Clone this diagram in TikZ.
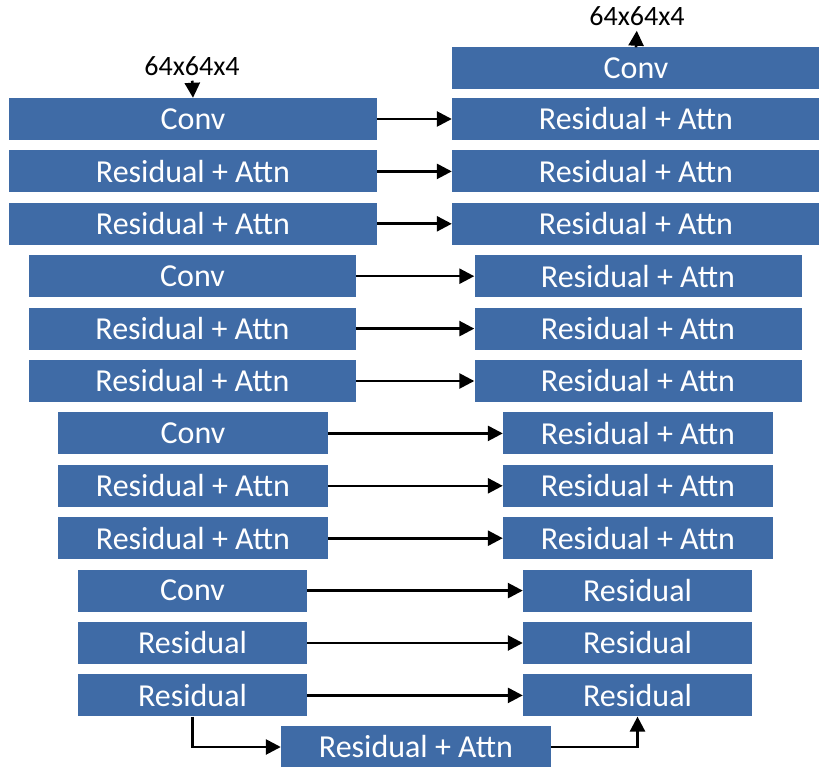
\documentclass[tikz,border=0pt]{standalone}
\usepackage{fontspec}
\setmainfont{Carlito}
\usetikzlibrary{arrows.meta,positioning}
\definecolor{boxblue}{RGB}{63,107,166}

\begin{document}
\begin{tikzpicture}[x=1pt,y=-1pt,>={Triangle[length=15pt,width=15pt]},
  blk/.style={fill=boxblue,text=white,inner sep=0pt,minimum height=42pt,font=\fontsize{32}{38}\selectfont},
  lvla/.style={blk,minimum width=368pt},
  lvlb/.style={blk,minimum width=327pt},
  lvlc/.style={blk,minimum width=270pt},
  lvld/.style={blk,minimum width=229pt},
  dimlbl/.style={inner sep=0pt,font=\fontsize{28}{33}\selectfont}]
  \useasboundingbox (0,0) rectangle (819,767);
  % encoder side
  \node[lvla] (l1)  at (193,119)   {Conv};
  \node[lvla] (l2)  at (193,171.4) {Residual + Attn};
  \node[lvla] (l3)  at (193,223.8) {Residual + Attn};
  \node[lvlb] (l4)  at (192.5,276.2) {Conv};
  \node[lvlb] (l5)  at (192.5,328.6) {Residual + Attn};
  \node[lvlb] (l6)  at (192.5,381)   {Residual + Attn};
  \node[lvlc] (l7)  at (193,433.4) {Conv};
  \node[lvlc] (l8)  at (193,485.8) {Residual + Attn};
  \node[lvlc] (l9)  at (193,538.2) {Residual + Attn};
  \node[lvld] (l10) at (192.5,590.6) {Conv};
  \node[lvld] (l11) at (192.5,643)   {Residual};
  \node[lvld] (l12) at (192.5,695.4) {Residual};
  % decoder side
  \node[lvla] (r0)  at (636,68.5)  {Conv};
  \node[lvla] (r1)  at (636,119)   {Residual + Attn};
  \node[lvla] (r2)  at (636,171.4) {Residual + Attn};
  \node[lvla] (r3)  at (636,223.8) {Residual + Attn};
  \node[lvlb] (r4)  at (638,276.2) {Residual + Attn};
  \node[lvlb] (r5)  at (638,328.6) {Residual + Attn};
  \node[lvlb] (r6)  at (638,381)   {Residual + Attn};
  \node[lvlc] (r7)  at (638,433.4) {Residual + Attn};
  \node[lvlc] (r8)  at (638,485.8) {Residual + Attn};
  \node[lvlc] (r9)  at (638,538.2) {Residual + Attn};
  \node[lvld] (r10) at (637.5,590.6) {Residual};
  \node[lvld] (r11) at (637.5,643)   {Residual};
  \node[lvld] (r12) at (637.5,695.4) {Residual};
  % middle
  \node[lvlc] (mid) at (416,747) {Residual + Attn};
  % input / output sizes
  \node[dimlbl] (inlbl)  at (192,66) {64x64x4};
  \node[dimlbl] (outlbl) at (637,16) {64x64x4};
\tikzset{link/.style={->,line width=2.6pt}}
\path
      (l1)  edge [link] (r1)
      (l2)  edge [link] (r2)
      (l3)  edge [link] (r3)
      (l4)  edge [link] (r4)
      (l5)  edge [link] (r5)
      (l6)  edge [link] (r6)
      (l7)  edge [link] (r7)
      (l8)  edge [link] (r8)
      (l9)  edge [link] (r9)
      (l10) edge [link] (r10)
      (l11) edge [link] (r11)
      (l12) edge [link] (r12);
  \draw[link,shorten <=5pt] (inlbl.south) -- (l1.north);
  \draw[link,shorten >=5pt] (r0.north) -- (outlbl.south);
  \draw[link] (l12.south) |- (mid.west);
  \draw[link] (mid.east) -| (r12.south);
\end{tikzpicture}
\end{document}
